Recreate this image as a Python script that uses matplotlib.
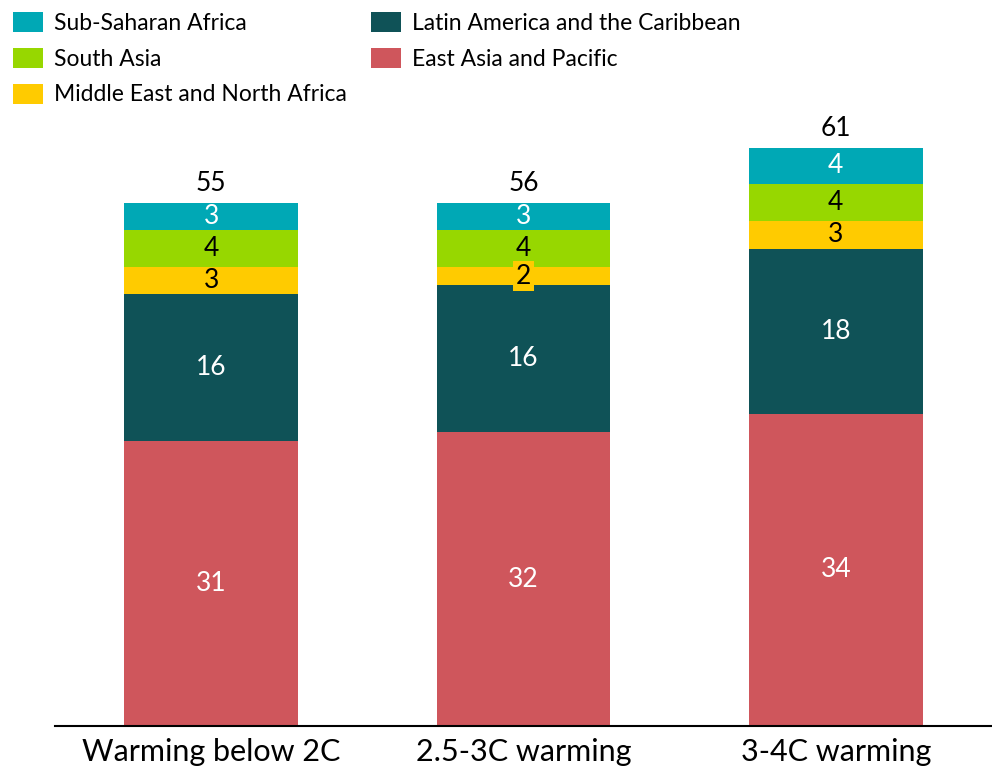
import numpy as np
import matplotlib.pyplot as plt
from matplotlib.patches import Patch

plt.rcParams['font.family'] = ['Lato', 'DejaVu Sans']

scenarios = ['Warming below 2C', '2.5-3C warming', '3-4C warming']
regions = ['East Asia and Pacific', 'Latin America and the Caribbean',
           'Middle East and North Africa', 'South Asia', 'Sub-Saharan Africa']
east_asia = [31, 32, 34]
latin_america = [16, 16, 18]
mena = [3, 2, 3]
south_asia = [4, 4, 4]
ssa = [3, 3, 4]
totals = [55, 56, 61]

colors = ['#CF565C', '#0F5257', '#FFCB00', '#97D700', '#00A8B5']
text_colors = ['white', 'white', 'black', 'black', 'white']

fig = plt.figure(figsize=(9.92, 7.66), dpi=100)
ax = fig.add_axes([55 / 992, 40 / 766, 937 / 992, 606 / 766])

x = np.arange(len(scenarios))
width = 0.557
bottom = np.zeros(len(scenarios))
series = [east_asia, latin_america, mena, south_asia, ssa]
for vals, col, tcol in zip(series, colors, text_colors):
    vals = np.array(vals, dtype=float)
    ax.bar(x, vals, width, bottom=bottom, color=col)
    for xi, b, v in zip(x, bottom, vals):
        kw = {}
        if col == '#FFCB00' and v < 3:
            kw['bbox'] = dict(boxstyle='square,pad=0.1', fc=col, ec='none')
        ax.text(xi, b + v / 2, '%d' % v, ha='center', va='center',
                fontsize=19, color=tcol, **kw)
    bottom += vals

for xi, top, t in zip(x, bottom, totals):
    ax.annotate(str(t), (xi, top), xytext=(0, 5), textcoords='offset points',
                ha='center', va='bottom', fontsize=19, color='black')

ax.set_xlim(-0.5, 2.5)
ax.set_ylim(0, 66)
ax.set_yticks([])
ax.set_xticks(x)
ax.set_xticklabels(scenarios, fontsize=22)
ax.tick_params(axis='x', length=0, pad=9)
for s in ['top', 'right', 'left']:
    ax.spines[s].set_visible(False)
ax.spines['bottom'].set_linewidth(1.5)

# legend: column-wise fill gives SSA / South Asia / MENA then LatAm / East Asia
order = [4, 3, 2, 1, 0]
handles = [Patch(facecolor=colors[i], label=regions[i]) for i in order]
fig.legend(handles=handles, loc='upper left',
           bbox_to_anchor=(13 / 992, 1 - 12 / 766),
           ncol=2, frameon=False, fontsize=16.5, handlelength=1.31,
           handleheight=0.96, columnspacing=1.04, labelspacing=0.61,
           handletextpad=0.48, borderpad=0, borderaxespad=0)

fig.savefig('out.png', dpi=100)
